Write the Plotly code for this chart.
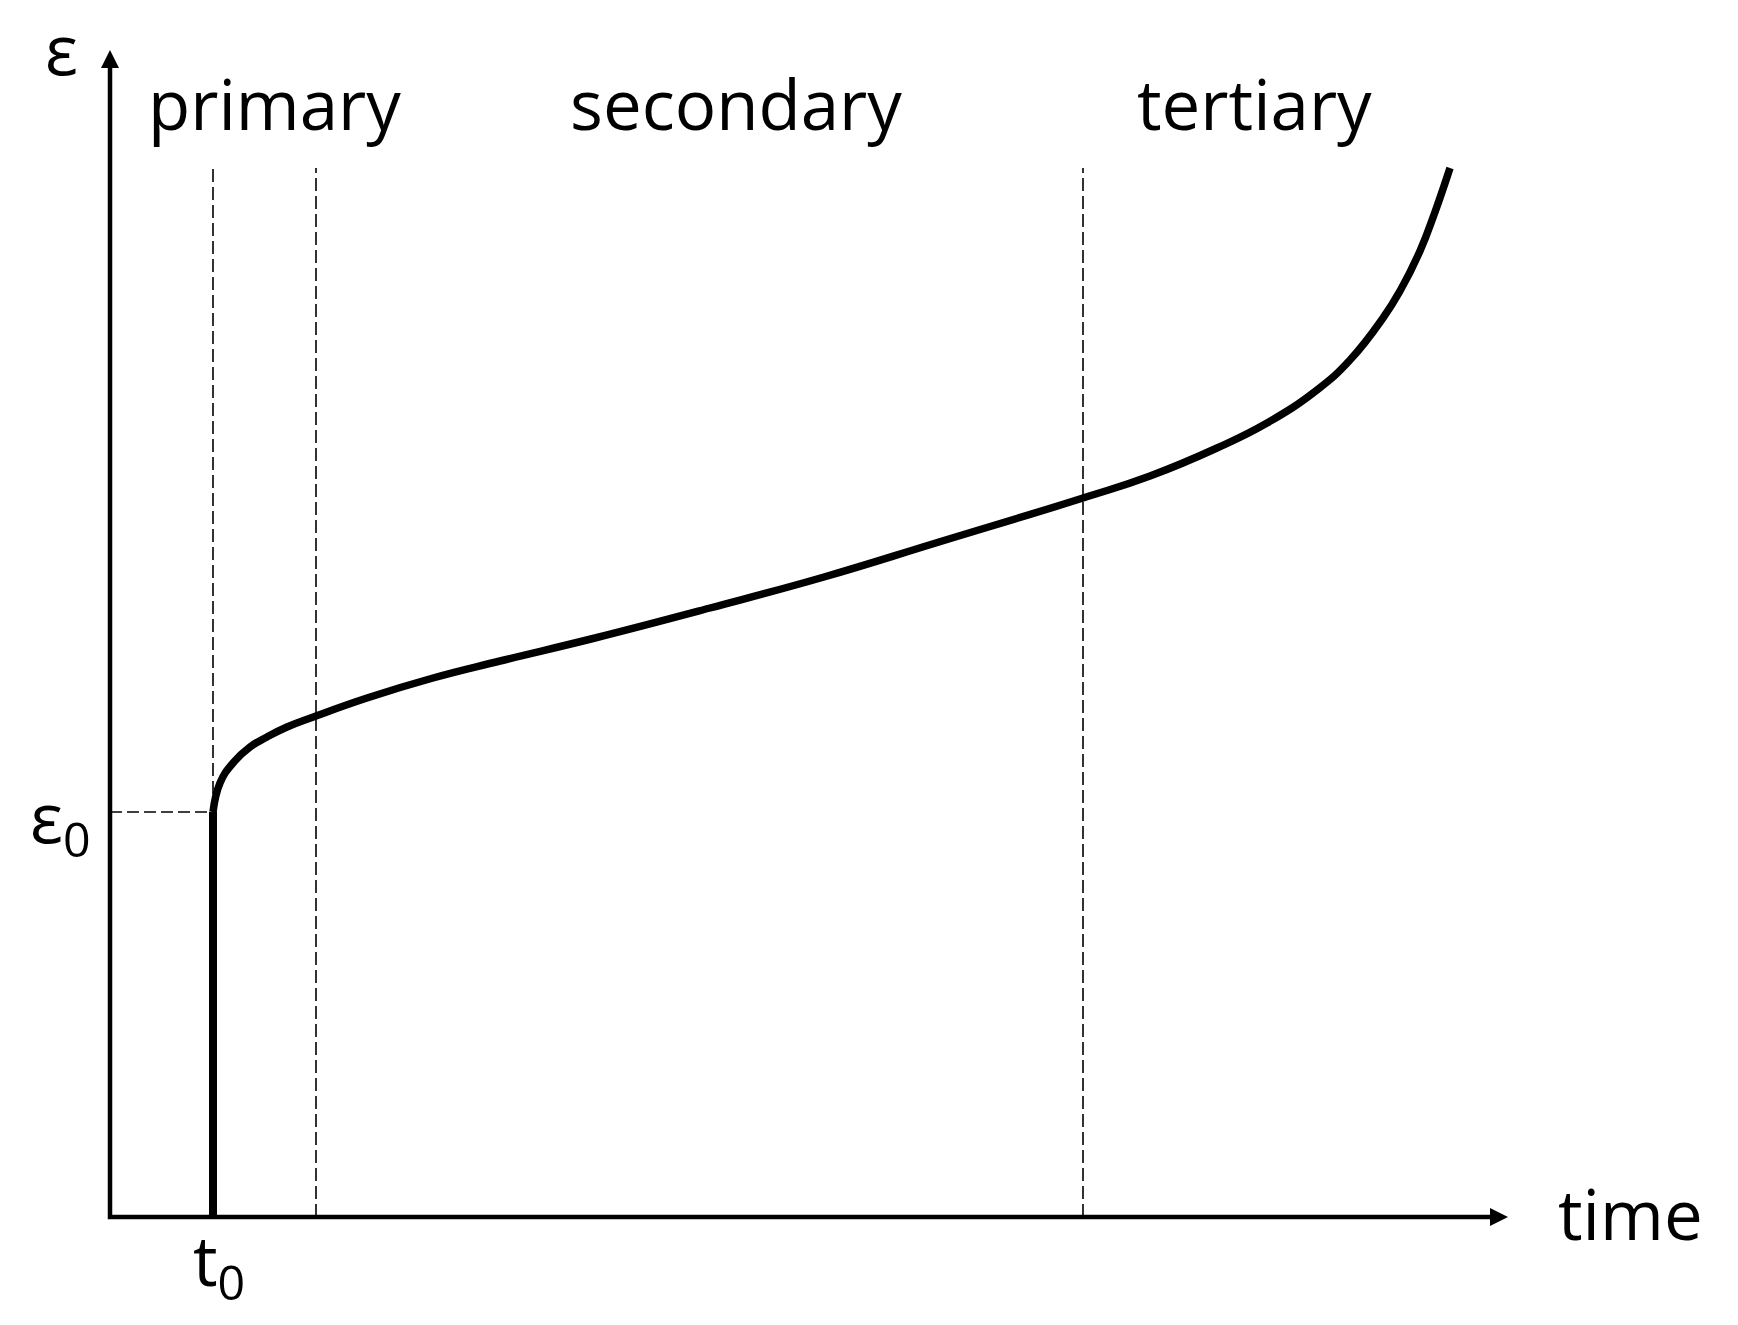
import plotly.graph_objects as go

# --- data (units: arbitrary time / strain) ---
t0 = 1.03
eps0 = 4.05
phase_bounds = [1.03, 2.06, 9.73]       # primary|secondary|tertiary boundaries
dash_top = 10.49
curve_t = [1.03, 1.10, 1.23, 1.40, 1.57, 1.77, 2.06, 2.57, 3.23, 3.90, 4.85, 6.00, 7.14, 8.29,
           9.73, 10.40, 11.07, 11.57, 12.07, 12.40, 12.73, 12.90, 13.10, 13.25, 13.40]
curve_eps = [4.05, 4.34, 4.54, 4.70, 4.80, 4.90, 5.01, 5.19, 5.39, 5.56, 5.79, 6.09, 6.40, 6.75,
             7.19, 7.41, 7.69, 7.94, 8.27, 8.57, 8.99, 9.26, 9.66, 10.05, 10.49]
phase_labels = ["primary", "secondary", "tertiary"]
phase_label_t = [1.64, 6.26, 11.44]
x_lo, x_max = -0.10, 13.98
y_lo, y_max = -0.10, 11.67

FONT = "Open Sans"
FS = 69

fig = go.Figure()

# dashed phase boundaries
dash_bottoms = [eps0, 0, 0]
for xb, yb in zip(phase_bounds, dash_bottoms):
    fig.add_trace(go.Scatter(x=[xb, xb], y=[yb, dash_top], mode="lines",
                             line=dict(color="black", width=1.6, dash="13px,5px"),
                             hoverinfo="skip", showlegend=False, cliponaxis=False))
# dashed eps0 level
fig.add_trace(go.Scatter(x=[0, t0], y=[eps0, eps0], mode="lines",
                         line=dict(color="black", width=1.6, dash="12px,5px"),
                         hoverinfo="skip", showlegend=False, cliponaxis=False))

# axes lines
fig.add_trace(go.Scatter(x=[0, 0, x_max - 0.15], y=[y_max - 0.15, 0, 0], mode="lines",
                         line=dict(color="black", width=4.5),
                         hoverinfo="skip", showlegend=False, cliponaxis=False))
# arrow heads
fig.add_trace(go.Scatter(x=[0], y=[y_max], mode="markers",
                         marker=dict(symbol="arrow-up", size=18, color="black", line=dict(width=0)),
                         hoverinfo="skip", showlegend=False, cliponaxis=False))
fig.add_trace(go.Scatter(x=[x_max], y=[0], mode="markers",
                         marker=dict(symbol="arrow-right", size=18, color="black", line=dict(width=0)),
                         hoverinfo="skip", showlegend=False, cliponaxis=False))

# instantaneous strain (vertical)
fig.add_trace(go.Scatter(x=[t0, t0], y=[0, eps0], mode="lines",
                         line=dict(color="black", width=8),
                         hoverinfo="skip", showlegend=False, cliponaxis=False))
# creep curve
fig.add_trace(go.Scatter(x=curve_t, y=curve_eps, mode="lines",
                         line=dict(color="black", width=7.5, shape="spline", smoothing=1.3),
                         hoverinfo="skip", showlegend=False, cliponaxis=False))


def px(t):
    return (t - x_lo) / (x_max - x_lo)


def py(e):
    return (e - y_lo) / (y_max - y_lo)


ann = []
for lab, xt in zip(phase_labels, phase_label_t):
    ann.append(dict(x=px(xt), y=py(11.14), xref="paper", yref="paper", text=lab, showarrow=False,
                    font=dict(family=FONT, size=FS, color="black"),
                    xanchor="center", yanchor="middle"))

ann.append(dict(x=px(15.2), y=py(0.04), xref="paper", yref="paper", text="time", showarrow=False,
                font=dict(family=FONT, size=FS, color="black"),
                xanchor="center", yanchor="middle"))
ann.append(dict(x=px(-0.49), y=py(11.69), xref="paper", yref="paper", text="ε", showarrow=False,
                font=dict(family=FONT, size=FS, color="black"),
                xanchor="center", yanchor="middle"))
ann.append(dict(x=px(-0.50), y=py(3.97), xref="paper", yref="paper", text="ε<sub>0</sub>",
                showarrow=False, font=dict(family=FONT, size=FS, color="black"),
                xanchor="center", yanchor="middle"))
ann.append(dict(x=px(t0 + 0.06), y=py(-0.46), xref="paper", yref="paper", text="t<sub>0</sub>",
                showarrow=False, font=dict(family=FONT, size=FS, color="black"),
                xanchor="center", yanchor="middle"))

fig.update_layout(
    width=1738, height=1325,
    margin=dict(l=100, r=230, t=50, b=98),
    paper_bgcolor="white", plot_bgcolor="white",
    xaxis=dict(range=[x_lo, x_max], visible=False, fixedrange=True),
    yaxis=dict(range=[y_lo, y_max], visible=False, fixedrange=True),
    annotations=ann,
    showlegend=False,
)

fig.write_html("out.html", post_script="document.body.style.margin='0';",
               config={"displayModeBar": False})
